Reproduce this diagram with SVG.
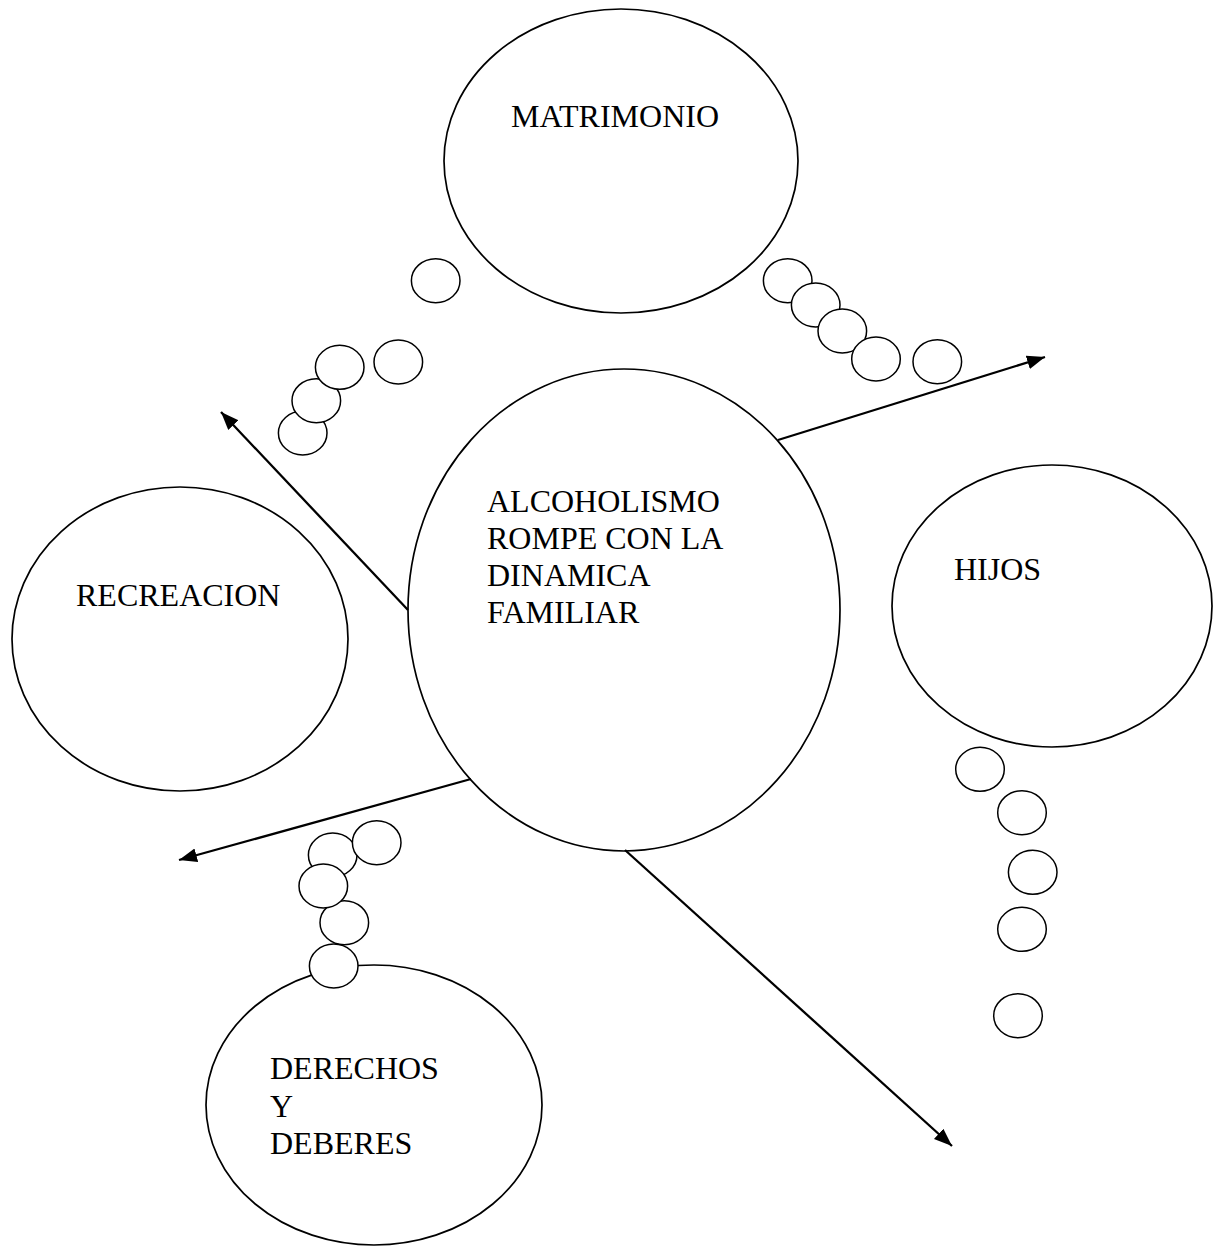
<svg xmlns="http://www.w3.org/2000/svg" width="1214" height="1247" viewBox="0 0 1214 1247">
<style>
.big{fill:#fff;stroke:#000;stroke-width:1.7}
.sm{fill:#fff;stroke:#000;stroke-width:1.5}
.lbl{font-family:"Liberation Serif","Times New Roman",serif;font-size:32px;fill:#000}
.arr{stroke:#000;stroke-width:2.3;fill:none;marker-end:url(#ah)}
</style>
<defs>
<marker id="ah" markerUnits="userSpaceOnUse" markerWidth="20" markerHeight="16" refX="18" refY="7" orient="auto">
<path d="M0,0 L18,7 L0,14 z" fill="#000"/>
</marker>
</defs>
<rect width="1214" height="1247" fill="#fff"/>
<g id="matrimonio">
<ellipse class="big" cx="621" cy="161" rx="177" ry="152"/>
<text class="lbl" x="511" y="127">MATRIMONIO</text>
</g>
<g id="alcoholismo">
<ellipse class="big" cx="624" cy="610" rx="216" ry="241"/>
<text class="lbl" x="487" y="512">ALCOHOLISMO</text>
<text class="lbl" x="487" y="549">ROMPE CON LA</text>
<text class="lbl" x="487" y="586">DINAMICA</text>
<text class="lbl" x="487" y="623">FAMILIAR</text>
</g>
<g id="recreacion">
<ellipse class="big" cx="180" cy="639" rx="168" ry="152"/>
<text class="lbl" x="76" y="606">RECREACION</text>
</g>
<g id="hijos">
<ellipse class="big" cx="1052" cy="606" rx="160" ry="141"/>
<text class="lbl" x="954" y="580">HIJOS</text>
</g>
<g id="derechos">
<ellipse class="big" cx="374" cy="1105" rx="168" ry="140"/>
<text class="lbl" x="270" y="1079">DERECHOS</text>
<text class="lbl" x="270" y="1117">Y</text>
<text class="lbl" x="270" y="1154">DEBERES</text>
</g>
<g id="burbujas-izq">
<ellipse class="sm" cx="435.7" cy="280.7" rx="24.3" ry="22"/>
<ellipse class="sm" cx="398.3" cy="362" rx="24.3" ry="22"/>
<ellipse class="sm" cx="302.7" cy="433" rx="24.3" ry="22"/>
<ellipse class="sm" cx="316.3" cy="400.7" rx="24.3" ry="22"/>
<ellipse class="sm" cx="339.7" cy="367.3" rx="24.3" ry="22"/>
</g>
<g id="burbujas-der">
<ellipse class="sm" cx="787.7" cy="280.7" rx="24.3" ry="22"/>
<ellipse class="sm" cx="815.7" cy="305" rx="24.3" ry="22"/>
<ellipse class="sm" cx="842.3" cy="331" rx="24.3" ry="22"/>
<ellipse class="sm" cx="876" cy="359" rx="24.3" ry="22"/>
<ellipse class="sm" cx="937.3" cy="361.7" rx="24.3" ry="22"/>
</g>
<g id="burbujas-abajo">
<ellipse class="sm" cx="332.7" cy="855" rx="24.3" ry="22"/>
<ellipse class="sm" cx="376.7" cy="842.7" rx="24.3" ry="22"/>
<ellipse class="sm" cx="344.3" cy="922.7" rx="24.3" ry="22"/>
<ellipse class="sm" cx="323.3" cy="886" rx="24.3" ry="22"/>
<ellipse class="sm" cx="333.7" cy="966" rx="24.3" ry="22"/>
</g>
<g id="burbujas-hijos">
<ellipse class="sm" cx="980" cy="769.3" rx="24.3" ry="22"/>
<ellipse class="sm" cx="1022" cy="812.7" rx="24.3" ry="22"/>
<ellipse class="sm" cx="1032.7" cy="872.3" rx="24.3" ry="22"/>
<ellipse class="sm" cx="1022" cy="929.3" rx="24.3" ry="22"/>
<ellipse class="sm" cx="1018" cy="1015.7" rx="24.3" ry="22"/>
</g>
<g id="conectores">
<line class="arr" x1="778" y1="440" x2="1045" y2="357"/>
<line class="arr" x1="408" y1="610" x2="221" y2="412"/>
<line class="arr" x1="471" y1="779" x2="179" y2="860"/>
<line class="arr" x1="625" y1="850" x2="952" y2="1146"/>
</g>
</svg>
